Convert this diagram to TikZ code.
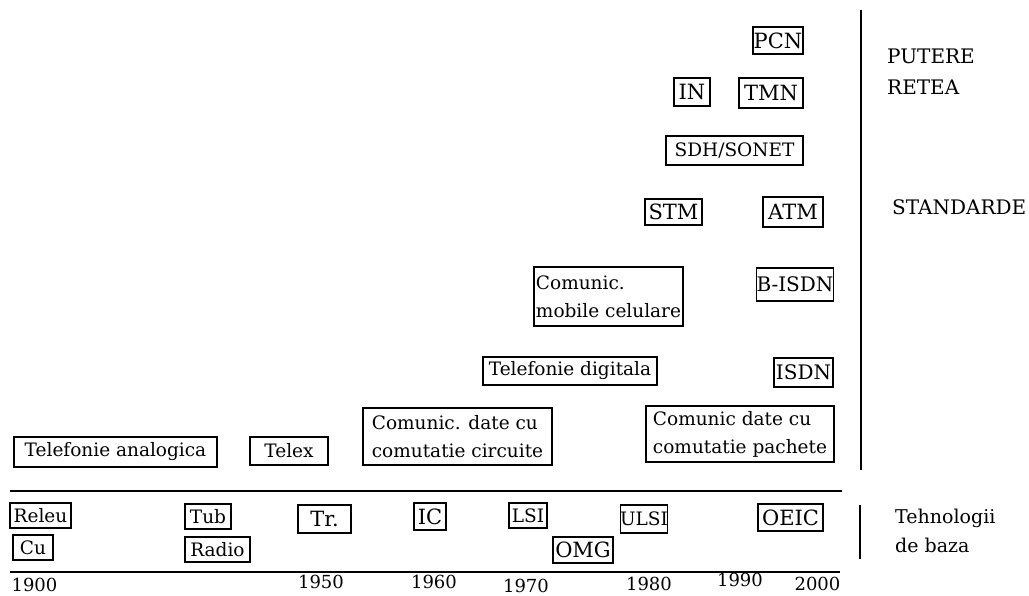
\documentclass[tikz,border=0pt]{standalone}
\usepackage{fontspec}
\setmainfont{DejaVu Serif}
\newcommand{\boxfont}{\fontsize{18.5}{28}\selectfont}
\newcommand{\capsfont}{\fontsize{21}{24}\selectfont}
\newcommand{\sidefont}{\fontsize{20}{31}\selectfont}
\tikzset{
  tbox/.style={rectangle, draw=black, line width=1.1pt, inner sep=0pt, font=\boxfont},
  capsbox/.style={tbox, font=\capsfont},
  twoline/.style={tbox, align=left},
  yearlabel/.style={font=\fontsize{18}{20}\selectfont, inner sep=0pt},
  sidelabel/.style={font=\sidefont, align=left, anchor=west, inner sep=0pt},
  axisline/.style={line width=1.5pt, color=black}
}
\begin{document}
\begin{tikzpicture}[x=1pt,y=-1pt]
  \useasboundingbox (0,0) rectangle (1029,596);
  % upper part: services and standards
  \node[tbox,minimum width=203pt,minimum height=30pt] (telan) at (115.5,452) {Telefonie analogica};
  \node[tbox,minimum width=78pt,minimum height=28pt] (telex) at (289,451) {Telex};
  \node[twoline,minimum width=189pt,minimum height=57pt] (circ) at (457.5,436.5) {Comunic. date cu\\comutatie circuite};
  \node[tbox,minimum width=174pt,minimum height=28pt] (teldig) at (570,371) {Telefonie digitala};
  \node[twoline,minimum width=149pt,minimum height=59pt] (mobil) at (608.5,296.5) {Comunic.\\mobile celulare};
  \node[twoline,minimum width=188pt,minimum height=56pt] (pach) at (740,434) {Comunic date cu\\comutatie pachete};
  \node[tbox,font=\fontsize{20}{24}\selectfont,minimum width=59pt,minimum height=29pt] (isdn) at (803.5,372.5) {ISDN};
  \node[tbox,font=\fontsize{20}{24}\selectfont,minimum width=76pt,minimum height=33pt] (bisdn) at (795,284.5) {B-ISDN};
  \node[capsbox,minimum width=57pt,minimum height=26pt] (stm) at (673.5,212) {STM};
  \node[capsbox,minimum width=60pt,minimum height=30pt] (atm) at (793,212) {ATM};
  \node[tbox,minimum width=137pt,minimum height=29pt] (sdh) at (734.5,150.5) {SDH/SONET};
  \node[capsbox,minimum width=36pt,minimum height=28pt] (in) at (692,92) {IN};
  \node[capsbox,minimum width=64pt,minimum height=30pt] (tmn) at (771,93) {TMN};
  \node[capsbox,minimum width=50pt,minimum height=27pt] (pcn) at (778,40.5) {PCN};
  % lower part: technologies
  \node[tbox,minimum width=61pt,minimum height=25pt] (releu) at (40.5,515.5) {Releu};
  \node[tbox,minimum width=40pt,minimum height=25pt] (cu) at (33,547.5) {Cu};
  \node[tbox,minimum width=46pt,minimum height=25pt] (tub) at (208,516.5) {Tub};
  \node[tbox,minimum width=65pt,minimum height=25pt] (radio) at (217.5,549.5) {Radio};
  \node[capsbox,minimum width=53pt,minimum height=28pt] (tr) at (324.5,519) {Tr.};
  \node[capsbox,minimum width=32pt,minimum height=27pt] (ic) at (430,516.5) {IC};
  \node[tbox,minimum width=38pt,minimum height=25pt] (lsi) at (528,515.5) {LSI};
  \node[capsbox,minimum width=60pt,minimum height=26pt] (omg) at (583,550) {OMG};
  \node[tbox,minimum width=46pt,minimum height=28pt] (ulsi) at (644,519) {ULSI};
  \node[capsbox,minimum width=65pt,minimum height=27pt] (oeic) at (790.5,517.5) {OEIC};
  % years
  \node[yearlabel] (y1900) at (34.5,585) {1900};
  \node[yearlabel] (y1950) at (321,582) {1950};
  \node[yearlabel] (y1960) at (434,582) {1960};
  \node[yearlabel] (y1970) at (526,585.5) {1970};
  \node[yearlabel] (y1980) at (649,583.5) {1980};
  \node[yearlabel] (y1990) at (740,580) {1990};
  \node[yearlabel] (y2000) at (817.5,583.5) {2000};
  % side labels
  \node[sidelabel] (putere) at (887,71.5) {PUTERE\\RETEA};
  \node[sidelabel] (stand) at (892,207.5) {STANDARDE};
  \node[sidelabel,font=\fontsize{19}{29}\selectfont] (tehno) at (895,530.5) {Tehnologii\\de baza};
  % lines
  \coordinate (ta) at (10,491); \coordinate (tb) at (842,491);
  \coordinate (ba) at (10,572); \coordinate (bb) at (840,572);
  \coordinate (va) at (861,10); \coordinate (vb) at (861,470);
  \coordinate (wa) at (860,505); \coordinate (wb) at (860,559);
  \draw[axisline] (ta)--(tb); \draw[axisline] (ba)--(bb);
  \draw[axisline] (va)--(vb); \draw[axisline] (wa)--(wb);
\end{tikzpicture}
\end{document}
